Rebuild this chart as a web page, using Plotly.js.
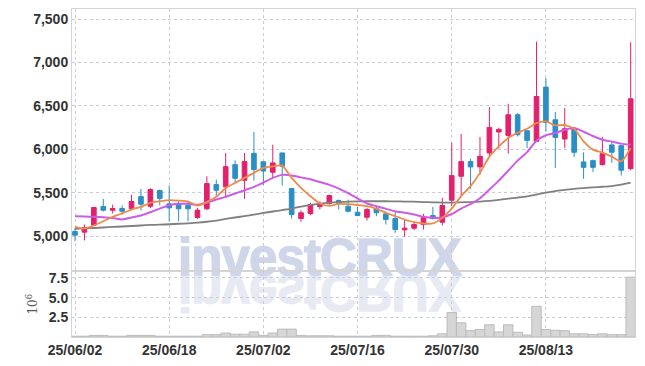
<!DOCTYPE html>
<html>
<head>
<meta charset="utf-8">
<script src="https://cdn.plot.ly/plotly-3.0.1.min.js"></script>
<style>
  html, body { margin: 0; padding: 0; background: #ffffff; }
  #wrap { position: relative; width: 645px; height: 366px; overflow: hidden; }
  #chart { position: absolute; left: 0; top: 0; width: 645px; height: 366px; z-index: 2; }
  .wm { position: absolute; left: 178px; top: 233px; font-family: "Liberation Sans", Arial, sans-serif;
        font-weight: bold; font-size: 51px; line-height: 50px; color: #d0d6e9; white-space: nowrap;
        letter-spacing: -0.9px; -webkit-text-stroke: 1.4px #d0d6e9; z-index: 1; }
  .wm.refl { transform-origin: 0 42px; transform: scaleY(-1); opacity: 0.5; }
</style>
</head>
<body>
<div id="wrap">
  <div class="wm">investCRUX</div>
  <div class="wm refl">investCRUX</div>
  <div id="chart"></div>
</div>
<script>
const dates = ["25/06/02","25/06/04","25/06/05","25/06/09","25/06/10","25/06/11","25/06/12","25/06/13","25/06/16","25/06/17",
  "25/06/18","25/06/19","25/06/20","25/06/23","25/06/24","25/06/25","25/06/26","25/06/27","25/06/30","25/07/01",
  "25/07/02","25/07/03","25/07/04","25/07/07","25/07/08","25/07/09","25/07/10","25/07/11","25/07/14","25/07/15",
  "25/07/16","25/07/17","25/07/18","25/07/21","25/07/22","25/07/23","25/07/24","25/07/25","25/07/28","25/07/29",
  "25/07/30","25/07/31","25/08/01","25/08/04","25/08/05","25/08/06","25/08/07","25/08/08","25/08/11","25/08/12",
  "25/08/13","25/08/14","25/08/18","25/08/19","25/08/20","25/08/21","25/08/22","25/08/25","25/08/26","25/08/27"];

const openP  = [5054,5046,5126,5341,5299,5318,5318,5456,5345,5525,
  5372,5372,5356,5215,5315,5594,5568,5824,5644,5954,
  5857,5736,5959,5548,5203,5261,5341,5376,5410,5345,
  5276,5218,5315,5257,5203,5073,5092,5134,5238,5161,
  5414,5690,5859,5798,5959,6200,6161,6399,6215,6092,
  6717,6341,6119,6238,5855,5870,5824,6051,6043,5778];
const highP  = [5097,5134,5335,5430,5364,5353,5476,5545,5552,5537,
  5580,5402,5402,5326,5690,5652,5959,5874,5959,6200,
  5857,6054,5959,5555,5299,5384,5402,5480,5422,5420,
  5338,5326,5345,5287,5287,5192,5161,5257,5338,5441,
  6074,6177,5893,6143,6487,6250,6525,6418,6215,7241,
  6821,6430,6476,6238,5966,5882,6143,6092,6054,7234];
const lowP   = [4943,4951,5120,5284,5261,5249,5295,5295,5322,5353,
  5172,5172,5172,5200,5299,5460,5441,5614,5430,5640,
  5590,5660,5583,5203,5166,5241,5307,5364,5307,5272,
  5230,5180,5230,5134,5039,4993,5069,5077,5192,5123,
  5345,5460,5545,5709,5920,6008,5951,6149,6016,6092,
  6207,5786,6016,5913,5660,5740,5813,5844,5698,5759];
const closeP = [5011,5097,5330,5299,5318,5287,5399,5368,5537,5433,
  5326,5315,5315,5299,5606,5529,5801,5667,5859,5767,
  5750,5844,5805,5249,5269,5364,5376,5468,5376,5287,
  5238,5307,5269,5192,5077,5092,5134,5218,5203,5353,
  5698,5859,5798,5920,6253,6230,6399,6169,6103,6609,
  6310,6138,6238,5966,5793,5793,5951,5966,5759,6583];

const ma5  = [5108,5089,5123,5172,5223,5261,5307,5338,5384,5402,
  5416,5410,5399,5353,5395,5453,5556,5614,5671,5729,
  5786,5805,5813,5671,5556,5460,5376,5349,5372,5370,
  5359,5345,5315,5269,5230,5192,5161,5146,5146,5211,
  5318,5462,5577,5729,5916,6034,6131,6192,6238,6303,
  6322,6276,6280,6238,6092,5997,5962,5916,5862,6016];
const ma20 = [5230,5226,5223,5218,5209,5192,5215,5238,5276,5318,
  5356,5372,5372,5361,5384,5422,5453,5491,5529,5568,
  5617,5671,5706,5700,5677,5656,5623,5591,5548,5497,
  5433,5376,5345,5315,5287,5269,5249,5223,5211,5215,
  5255,5318,5370,5437,5537,5640,5755,5870,5968,6100,
  6163,6189,6226,6246,6203,6154,6111,6089,6066,6054];
const ma60 = [5083,5089,5094,5100,5106,5111,5117,5123,5129,5132,
  5137,5143,5148,5155,5166,5180,5198,5215,5232,5249,
  5267,5284,5301,5318,5341,5361,5376,5387,5393,5399,
  5401,5402,5402,5402,5401,5399,5397,5393,5390,5387,
  5387,5390,5393,5399,5407,5418,5433,5445,5459,5479,
  5502,5520,5533,5545,5554,5562,5569,5577,5594,5617];

const volumeM = [0.1,0.1,0.2,0.2,0.1,0.1,0.2,0.2,0.2,0.1,
  0.1,0.1,0.1,0.1,0.3,0.3,0.5,0.35,0.35,0.65,
  0.2,0.5,1.0,1.0,0.2,0.15,0.15,0.15,0.1,0.1,
  0.1,0.1,0.2,0.2,0.1,0.1,0.1,0.1,0.15,0.4,
  3.1,1.8,0.8,0.95,1.55,0.65,1.55,0.6,0.25,3.9,
  0.95,0.85,0.8,0.4,0.4,0.3,0.4,0.3,0.3,7.6];

const xTickVals = ["25/06/02","25/06/18","25/07/02","25/07/16","25/07/30","25/08/13"];
const priceTicks = [5000,5500,6000,6500,7000,7500];
const volTicks = [2.5,5,7.5];
const volTickText = ["2.5","5.0","7.5"];

const tickFont = {family: "Liberation Sans Narrow, Liberation Sans, sans-serif", size: 14, color: "#333333", weight: "bold"};
const gridCol = "#c9cbdc";
const lineCol = "#d4d4d4";

const traces = [
  {type: "candlestick", x: dates, open: openP, high: highP, low: lowP, close: closeP,
   xaxis: "x", yaxis: "y", whiskerwidth: 0,
   increasing: {line: {color: "#e3206b", width: 1}, fillcolor: "#e3206b"},
   decreasing: {line: {color: "#2b8fc6", width: 1}, fillcolor: "#2b8fc6"},
   hoverinfo: "skip", showlegend: false},
  {type: "scatter", mode: "lines", x: dates, y: ma60, xaxis: "x", yaxis: "y",
   line: {color: "#808080", width: 1.8, shape: "spline", smoothing: 0.6}, hoverinfo: "skip", showlegend: false},
  {type: "scatter", mode: "lines", x: dates, y: ma20, xaxis: "x", yaxis: "y",
   line: {color: "#cc5ce8", width: 2, shape: "spline", smoothing: 0.6}, hoverinfo: "skip", showlegend: false},
  {type: "scatter", mode: "lines", x: dates, y: ma5, xaxis: "x", yaxis: "y",
   line: {color: "#ef8a4b", width: 1.8, shape: "spline", smoothing: 0.6}, hoverinfo: "skip", showlegend: false},
  {type: "bar", x: dates, y: volumeM, xaxis: "x2", yaxis: "y2",
   marker: {color: "#d6d6d6", line: {color: "#bcbcbc", width: 1}},
   hoverinfo: "skip", showlegend: false}
];

const xRange = [-0.32, 59.46];
const layout = {
  width: 645, height: 366,
  margin: {l: 72, r: 10, t: 9, b: 29, pad: 0},
  paper_bgcolor: "rgba(0,0,0,0)", plot_bgcolor: "rgba(0,0,0,0)",
  showlegend: false, bargap: 0,
  xaxis: {type: "category", domain: [0, 1], anchor: "y", range: xRange, rangeslider: {visible: false},
    showticklabels: false, tickmode: "array", tickvals: xTickVals,
    showgrid: true, gridcolor: gridCol, griddash: "dot", gridwidth: 1,
    showline: true, mirror: true, linecolor: lineCol, linewidth: 1, zeroline: false, ticks: ""},
  yaxis: {domain: [0.2, 1], anchor: "x", range: [4594, 7617], tickmode: "array", tickvals: priceTicks,
    tickformat: ",d", tickfont: tickFont, showgrid: true, gridcolor: gridCol, griddash: "dot", gridwidth: 1,
    showline: true, mirror: true, linecolor: lineCol, linewidth: 1, zeroline: false, ticks: ""},
  xaxis2: {type: "category", domain: [0, 1], anchor: "y2", range: xRange, matches: "x",
    tickmode: "array", tickvals: xTickVals, ticktext: xTickVals, tickfont: tickFont, tickangle: 0,
    showgrid: true, gridcolor: gridCol, griddash: "dot", gridwidth: 1,
    showline: true, mirror: true, linecolor: lineCol, linewidth: 1, zeroline: false, ticks: ""},
  yaxis2: {domain: [0, 0.2], anchor: "x2", range: [0, 8.33], tickmode: "array", tickvals: volTicks,
    ticktext: volTickText, tickfont: tickFont, showgrid: true, gridcolor: gridCol, griddash: "dot", gridwidth: 1,
    showline: true, mirror: true, linecolor: lineCol, linewidth: 1, zeroline: false, ticks: "",
    title: {text: "10<sup>6</sup>", font: {family: "DejaVu Serif, serif", size: 12, color: "#555555"}, standoff: 8}}
};

Plotly.newPlot("chart", traces, layout, {staticPlot: true, displayModeBar: false});
</script>
</body>
</html>
